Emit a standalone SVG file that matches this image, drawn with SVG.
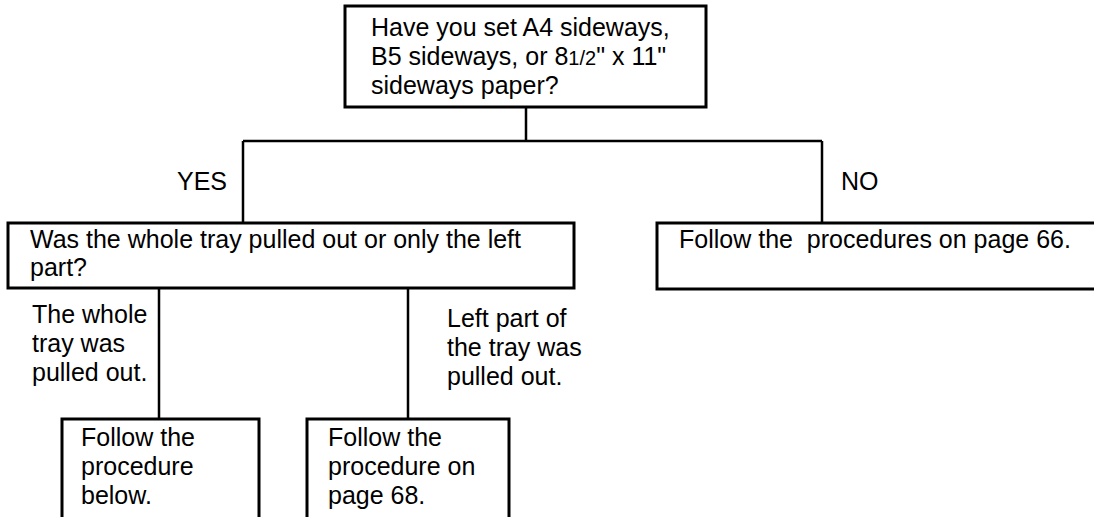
<svg xmlns="http://www.w3.org/2000/svg" width="1094" height="517" viewBox="0 0 1094 517">
<style>
.box{fill:#fff;stroke:#000;stroke-width:3}
.c{stroke:#000;stroke-width:2.5;fill:none}
text{font-family:"Liberation Sans",Arial,sans-serif;font-size:25px;fill:#000}
</style>
<rect width="1094" height="517" fill="#fff"/>
<g id="connectors">
<path class="c" d="M526 107V141M243 141H822M243 141V223M822 141V223"/>
<path class="c" d="M159 289V419M408 289V419"/>
<text x="227" y="190" text-anchor="end">YES</text>
<text x="841" y="190">NO</text>
<text x="32" y="323">The whole</text>
<text x="32" y="352">tray was</text>
<text x="32" y="381">pulled out.</text>
<text x="447" y="327">Left part of</text>
<text x="447" y="356">the tray was</text>
<text x="447" y="385">pulled out.</text>
</g>
<g id="q1">
<rect class="box" x="345" y="6" width="361" height="101"/>
<text x="371" y="36">Have you set A4 sideways,</text>
<text x="371" y="65">B5 sideways, or 8<tspan font-size="20">1/2</tspan>" x 11"</text>
<text x="371" y="94">sideways paper?</text>
</g>
<g id="q2">
<rect class="box" x="8" y="223" width="566" height="65"/>
<text x="30" y="248">Was the whole tray pulled out or only the left</text>
<text x="30" y="276">part?</text>
</g>
<g id="no">
<rect class="box" x="657" y="223" width="450" height="66"/>
<text x="679" y="248" xml:space="preserve">Follow the  procedures on page 66.</text>
</g>
<g id="below">
<rect class="box" x="62" y="419" width="197" height="110"/>
<text x="81" y="446">Follow the</text>
<text x="81" y="475">procedure</text>
<text x="81" y="504">below.</text>
</g>
<g id="p68">
<rect class="box" x="307" y="419" width="202" height="110"/>
<text x="328" y="446">Follow the</text>
<text x="328" y="475">procedure on</text>
<text x="328" y="504">page 68.</text>
</g>
</svg>
